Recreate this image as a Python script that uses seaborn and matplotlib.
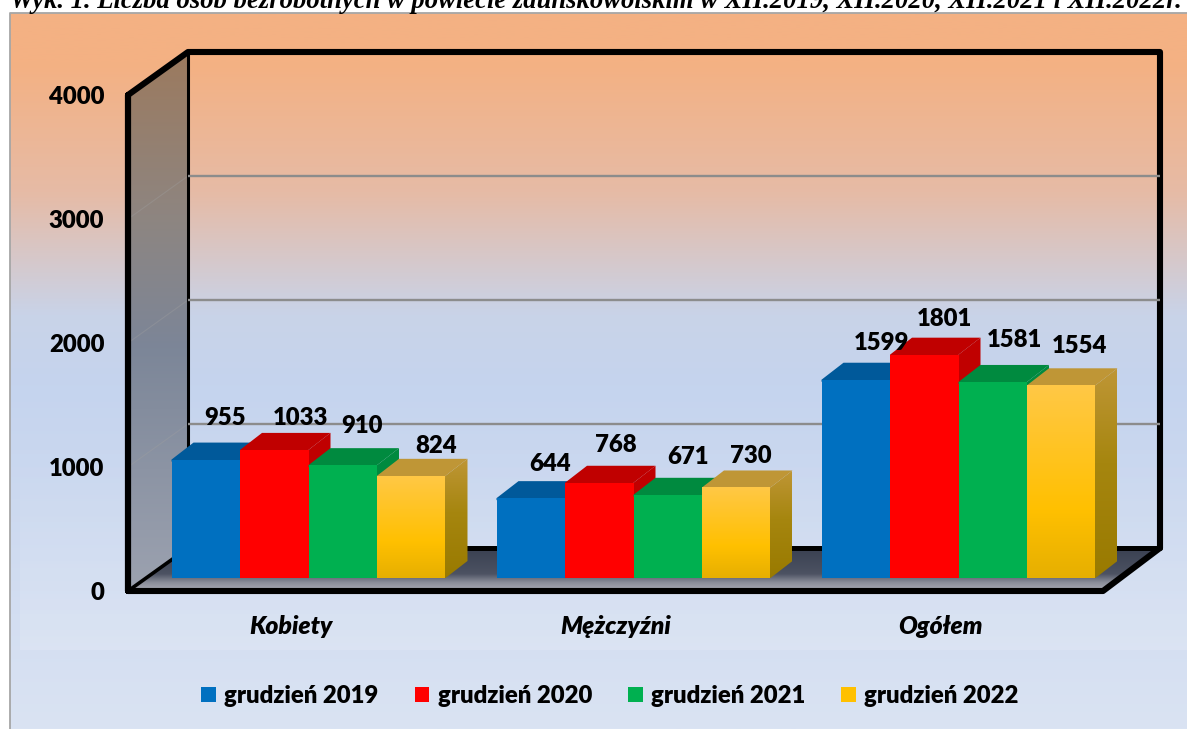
import matplotlib
matplotlib.use('Agg')
import matplotlib.pyplot as plt
from matplotlib.colors import LinearSegmentedColormap
from matplotlib.patches import Polygon
import numpy as np
import pandas as pd
import seaborn as sns

title = 'Wyk. 1. Liczba osób bezrobotnych w powiecie zduńskowolskim w XII.2019, XII.2020, XII.2021 i XII.2022r.'
groups = ['Kobiety', 'Mężczyźni', 'Ogółem']
years = ['grudzień 2019', 'grudzień 2020', 'grudzień 2021', 'grudzień 2022']
v2019 = [955, 644, 1599]
v2020 = [1033, 768, 1801]
v2021 = [910, 671, 1581]
v2022 = [824, 730, 1554]
y_ticks = [0, 1000, 2000, 3000, 4000]

# label shift from the top middle of each bar, in pixels
nudges = {
    'grudzień 2019': [(19, 42), (19, 34), (26, 37)],
    'grudzień 2020': [(26, 32), (17, 38), (20, 36)],
    'grudzień 2021': [(19, 39), (20, 38), (22, 42)],
    'grudzień 2022': [(25, 30), (15, 31), (18, 39)],
}

front_colors = ['#0070C0', '#FF0000', '#00B050', '#FFC000']
top_colors = ['#00599A', '#C00000', '#008A3F', '#BF9636']

W, H = 1187, 729
FS = 17.2
WEIGHT = 'heavy'
sns.set_style('white')
plt.rcParams['font.family'] = ['Lato', 'DejaVu Sans']
plt.rcParams['font.weight'] = WEIGHT

df = pd.DataFrame({
    'grupa': groups * 4,
    'rok': np.repeat(years, 3),
    'liczba': v2019 + v2020 + v2021 + v2022,
})

fig = plt.figure(figsize=(W / 100, H / 100), dpi=100, facecolor='white')


def plane(left, top, right, bottom, z):
    a = fig.add_axes([left / W, 1 - bottom / H, (right - left) / W, (bottom - top) / H], zorder=z)
    a.patch.set_alpha(0)
    a.set_xlim(-0.5, 2.5)
    a.set_ylim(0, 4000)
    a.set_xticks([])
    a.set_yticks([])
    sns.despine(ax=a, left=True, bottom=True)
    return a


def cmap(colors):
    return LinearSegmentedColormap.from_list('g', colors)


def grad(a, verts, colors, z):
    # vertical gradient clipped to a polygon, first colour at the top of the screen
    verts = np.array(verts)
    x0, x1 = verts[:, 0].min(), verts[:, 0].max()
    y0, y1 = verts[:, 1].min(), verts[:, 1].max()
    lims = a.get_xlim(), a.get_ylim()
    if a is bg:
        ext = (x0, x1, y1, y0)
    else:
        ext = (x0, x1, y0, y1)
    im = a.imshow(np.linspace(0, 1, 256).reshape(-1, 1), cmap=cmap(colors), aspect='auto',
                  extent=ext, origin='upper', zorder=z)
    clip = Polygon(verts, closed=True, transform=a.transData)
    im.set_clip_path(clip)
    a.set_xlim(lims[0])
    a.set_ylim(lims[1])


# background in pixel coordinates
bg = fig.add_axes([0, 0, 1, 1], zorder=0)
bg.set_xlim(0, W)
bg.set_ylim(H, 0)
bg.axis('off')
grad(bg, [(10, 13), (W, 13), (W, H), (10, H)],
     [(0, '#F4B183'), (0.07, '#F4B183'), (0.25, '#E6BBA6'), (0.42, '#C9D3E8'), (0.52, '#C5D4EE'), (1, '#DAE3F3')], 1)
fade = np.ones((256, 1, 4))
fade[..., 3] = np.linspace(0, 0.15, 256)[:, None]
bg.imshow(fade, extent=(20, W, 650, 440), aspect='auto', zorder=1.5)
bg.set_xlim(0, W)
bg.set_ylim(H, 0)
bg.plot([9.5, 9.5, W], [H, 13, 13], color='#A6A6A6', lw=1.3, zorder=2)

# walls and floor
wl, wt, wr, wb = 128, 95, 1103, 591
bk = (60, -43)
bg_left = [(wl, wt), (wl + bk[0], wt + bk[1]), (wl + bk[0], wb + bk[1]), (wl, wb)]
grad(bg, bg_left, [(0, '#9C7A5E'), (0.3, '#8E8580'), (0.55, '#7C8698'), (1, '#9CA2B0')], 2)
grad(bg, [(wl, wb), (wr, wb), (wr + bk[0] - 3, wb + bk[1]), (wl + bk[0], wb + bk[1])],
     [(0, '#3A4152'), (0.6, '#4C5262'), (0.8, '#8A8D99'), (1, '#ABADB6')], 2)

back = plane(wl + bk[0], wt + bk[1], wr + bk[0] - 3, wb + bk[1], 1)
back.set_yticks(y_ticks[1:-1])
back.tick_params(left=False, labelleft=False)
back.yaxis.grid(True, color='#8C8C8C', lw=1.7)
for v in y_ticks[1:-1]:
    y = wb - (wb - wt) * v / 4000
    bg.plot([wl, wl + bk[0]], [y, y + bk[1]], color='#A0A0A0', lw=0.8, alpha=0.35, zorder=3)

# frame
bg.plot([wl + bk[0], wl + bk[0]], [wt + bk[1], wb + bk[1]], color='black', lw=2.2, zorder=4)
bg.plot([wl, wl + bk[0]], [wb, wb + bk[1]], color='black', lw=2.6, zorder=4)
bg.plot([wl + bk[0], wr + bk[0] - 3], [wb + bk[1], wb + bk[1]], color='black', lw=3.6, zorder=4)
bg.plot([wl, wl, wl + bk[0], wr + bk[0] - 3, wr + bk[0] - 3, wr, wl, wl],
        [wb, wt, wt + bk[1], wt + bk[1], wb + bk[1], wb, wb, wt],
        color='black', lw=4.4, solid_joinstyle='round', zorder=5)

# front plane holds the axis text
front = plane(wl, wt, wr, wb, 2)
front.set_xticks(range(3))
front.set_xticklabels(groups, fontsize=FS + 0.6, style='italic', fontweight=WEIGHT)
front.set_yticks(y_ticks)
front.tick_params(axis='x', length=0, pad=17, labelcolor='black')
front.tick_params(axis='y', length=0, pad=17, labelsize=FS, labelcolor='black')
for lab in front.get_yticklabels():
    lab.set_y(lab.get_position()[1])

# bars sit a little behind the front plane
ax = plane(wl + 18, wt - 13, wr + 18, wb - 13, 3)
sns.barplot(data=df, x='grupa', y='liczba', hue='rok', hue_order=years, order=groups,
            palette=front_colors, saturation=1, width=0.843, gap=0, linewidth=0, ax=ax)
ax.set_xlim(-0.5, 2.5)
ax.set_ylim(0, 4000)
ax.set_xticks([])
ax.set_yticks([])
ax.set_xlabel('')
ax.set_ylabel('')

sx = (wr - wl) / 3
sy = (wb - wt) / 4000
ddx, ddy = 22 / sx, 17 / sy
lapx, lapy = 2 / sx, 2 / sy  # run the faces under the front so no seam shows

for i, cont in enumerate(ax.containers):
    for g, bar in enumerate(cont.patches):
        x0, w, h = bar.get_x(), bar.get_width(), bar.get_height()
        x1 = x0 + w
        z = 3 + g + i * 0.1
        side = [(x1 - lapx, 0), (x1, 0), (x1 + ddx, ddy), (x1 + ddx, h + ddy), (x1, h), (x1 - lapx, h)]
        top = [(x0, h - lapy), (x0, h), (x0 + ddx, h + ddy), (x1 + ddx, h + ddy), (x1, h), (x1, h - lapy)]
        if i == 3:
            grad(ax, side, [(0, '#BF9636'), (0.45, '#A6860F'), (1, '#997A00')], z)
        else:
            ax.add_patch(Polygon(side, closed=True, fc=top_colors[i], ec='none', zorder=z))
        ax.add_patch(Polygon(top, closed=True, fc=top_colors[i], ec='none', zorder=z + 0.01))
        bar.set_zorder(z + 0.02)
        if i == 3:
            grad(ax, [(x0, 0), (x1, 0), (x1, h), (x0, h)],
                 [(0, '#FFC846'), (0.65, '#FFC000'), (1, '#E6AF00')], z + 0.03)
        dx, dy = nudges[years[i]][g]
        ax.annotate(f'{int(h)}', (x0 + w / 2, h), xytext=(dx * 0.72, dy * 0.72), textcoords='offset points',
                    ha='center', va='center', fontsize=FS, fontweight=WEIGHT, color='black',
                    annotation_clip=False, zorder=50)

sns.move_legend(ax, 'center', bbox_to_anchor=(610 / W, 1 - 696 / H), bbox_transform=fig.transFigure,
                ncol=4, frameon=False, title=None, fontsize=FS, handlelength=0.62, handleheight=0.62,
                handletextpad=0.35, columnspacing=1.5, labelcolor='black')

fig.text(10 / W, 1 - 8 / H, title, family='Liberation Serif', style='italic', fontweight='bold',
         fontsize=19.2, ha='left', va='baseline', color='black', zorder=60)

fig.savefig('out.png', dpi=100)
